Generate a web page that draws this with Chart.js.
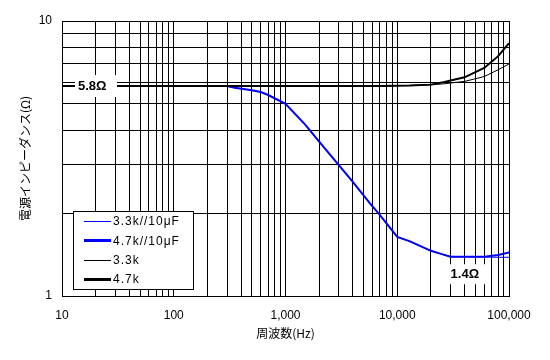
<!DOCTYPE html>
<html>
<head>
<meta charset="utf-8">
<script src="https://cdn.jsdelivr.net/npm/chart.js@4"></script>
<style>
  body { margin: 0; background: #fff; }
</style>
</head>
<body>
<canvas id="imp_chart" width="550" height="360"></canvas>
<script>
// frequency points (Hz)
const freqs = [10, 100, 300, 350, 500, 600, 700, 1000, 1500, 2000, 3000, 4000, 5700, 7000, 10000, 13000, 20000, 25000, 30000, 40000, 60000, 80000, 100000];

// impedance (ohm) per series
const thin_rc  = [5.8, 5.8, 5.8, 5.72, 5.6, 5.52, 5.38, 5.0, 4.2, 3.64, 2.99, 2.6, 2.17, 1.97, 1.64, 1.58, 1.46, 1.42, 1.39, 1.39, 1.385, 1.383, 1.383];
const thick_rc = [5.8, 5.8, 5.8, 5.72, 5.6, 5.52, 5.38, 5.0, 4.2, 3.64, 2.99, 2.6, 2.17, 1.97, 1.64, 1.58, 1.46, 1.42, 1.39, 1.39, 1.39, 1.41, 1.44];
const thin_r   = [5.8, 5.8, 5.8, 5.8, 5.8, 5.8, 5.8, 5.8, 5.8, 5.8, 5.8, 5.8, 5.8, 5.8, 5.82, 5.83, 5.86, 5.9, 5.95, 6.03, 6.28, 6.65, 6.98];
const thick_r  = [5.8, 5.8, 5.8, 5.8, 5.8, 5.8, 5.8, 5.8, 5.8, 5.8, 5.8, 5.8, 5.8, 5.8, 5.82, 5.83, 5.87, 5.97, 6.08, 6.24, 6.75, 7.45, 8.3];

const legendLabels = ['3.3k//10\u03BCF', '4.7k//10\u03BCF', '3.3k', '4.7k'];
const xTicks = [10,20,30,40,50,60,70,80,90,100,200,300,400,500,600,700,800,900,1000,2000,3000,4000,5000,6000,7000,8000,9000,10000,20000,30000,40000,50000,60000,70000,80000,90000,100000];
const yTicks = [1,2,3,4,5,6,7,8,9,10];
const xLabels = {10: '10', 100: '100', 1000: '1,000', 10000: '10,000', 100000: '100,000'};
const yLabels = {1: '1', 10: '10'};

const NUM_FONT = '"Liberation Sans", Arial, sans-serif';
const JP_FONT = '"Noto Sans CJK JP", sans-serif';

function pts(vals) {
  return freqs.map((f, i) => ({x: f, y: vals[i]}));
}

const styles = [
  {color: '#0000FF', width: 1, order: 3},
  {color: '#0000FF', width: 2, order: 2},
  {color: '#000000', width: 1, order: 1},
  {color: '#000000', width: 2, order: 0}
];
const series = [thin_rc, thick_rc, thin_r, thick_r];

// legend box + value notes
const overlay = {
  id: 'overlay',
  afterDatasetsDraw(chart) {
    const ctx = chart.ctx;
    const x = chart.scales.x, y = chart.scales.y;
    ctx.save();

    // 5.8 ohm note
    ctx.font = 'bold 13px ' + NUM_FONT;
    ctx.textBaseline = 'middle';
    let yy = y.getPixelForValue(5.8);
    ctx.fillStyle = '#fff';
    ctx.fillRect(75, yy - 11, 42, 22);
    ctx.fillStyle = '#000';
    ctx.textAlign = 'left';
    ctx.fillText('5.8\u03A9', 78, yy + 0.5);

    // 1.4 ohm note
    let xx = x.getPixelForValue(30000);
    yy = y.getPixelForValue(1.2);
    ctx.fillStyle = '#fff';
    ctx.fillRect(xx - 5, yy - 10, 40, 20);
    ctx.fillStyle = '#000';
    ctx.fillText('1.4\u03A9', xx, yy);

    // legend
    const bx = 73, by = 211, bw = 120, bh = 78;
    ctx.fillStyle = '#fff';
    ctx.fillRect(bx, by, bw, bh);
    ctx.strokeStyle = '#000';
    ctx.lineWidth = 1;
    ctx.strokeRect(bx + 0.5, by + 0.5, bw, bh);
    ctx.font = '12px ' + NUM_FONT;
    ctx.letterSpacing = '1px';
    legendLabels.forEach((lab, i) => {
      const ry = 221 + i * 19.3;
      ctx.strokeStyle = styles[i].color;
      ctx.lineWidth = styles[i].width === 1 ? 1 : 3;
      ctx.beginPath();
      ctx.moveTo(84, Math.round(ry) + 0.5);
      ctx.lineTo(111, Math.round(ry) + 0.5);
      ctx.stroke();
      ctx.fillStyle = '#000';
      ctx.fillText(lab, 113, ry + 1);
    });
    ctx.restore();
  }
};

new Chart(document.getElementById('imp_chart'), {
  type: 'line',
  data: {
    datasets: series.map((s, i) => ({
      label: legendLabels[i],
      data: pts(s),
      borderColor: styles[i].color,
      borderWidth: styles[i].width,
      order: styles[i].order,
      pointRadius: 0,
      fill: false,
      tension: 0
    }))
  },
  options: {
    responsive: false,
    animation: false,
    layout: { padding: { left: 0, right: 41, top: 21, bottom: 10 } },
    plugins: { legend: { display: false }, tooltip: { enabled: false } },
    scales: {
      x: {
        type: 'logarithmic',
        min: 10, max: 100000,
        afterBuildTicks: s => { s.ticks = xTicks.map(v => ({value: v})); },
        grid: { color: '#000', lineWidth: 1, drawTicks: false },
        border: { color: '#000', width: 1 },
        ticks: {
          autoSkip: false, maxRotation: 0, padding: 12,
          color: '#000', font: { family: NUM_FONT, size: 12 },
          callback: v => xLabels[v] || ''
        },
        title: { display: true, text: '周波数(Hz)', color: '#000', font: { family: JP_FONT, size: 12 }, padding: { top: 4, bottom: 9 } },
        afterFit: s => { s.height = 54; }
      },
      y: {
        type: 'logarithmic',
        min: 1, max: 10,
        afterBuildTicks: s => { s.ticks = yTicks.map(v => ({value: v})); },
        grid: { color: '#000', lineWidth: 1, drawTicks: false },
        border: { color: '#000', width: 1 },
        ticks: {
          autoSkip: false, padding: 10,
          color: '#000', font: { family: NUM_FONT, size: 12 },
          callback: v => yLabels[v] || ''
        },
        title: { display: true, text: '電源インピーダンス(Ω)', color: '#000', font: { family: JP_FONT, size: 12 }, padding: { top: 18, bottom: 0 } },
        afterFit: s => { s.width = 62; }
      }
    }
  },
  plugins: [overlay]
});
</script>
</body>
</html>
